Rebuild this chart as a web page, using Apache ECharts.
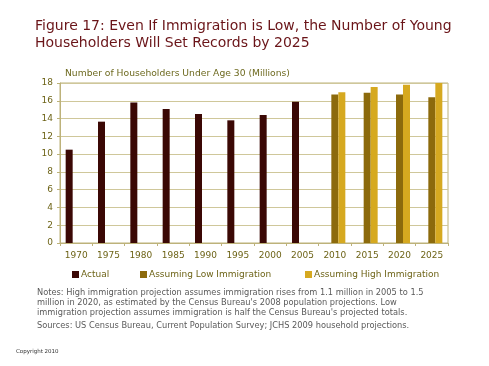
<!DOCTYPE html>
<html><head><meta charset="utf-8">
<script src="https://cdn.jsdelivr.net/npm/echarts@6/dist/echarts.min.js"></script>
<style>html,body{margin:0;padding:0;background:#fff}#c{width:489px;height:366px}</style>
</head><body><div id="c"></div>
<script>
const categories = ['1970','1975','1980','1985','1990','1995','2000','2005','2010','2015','2020','2025'];
const actual = [10.5,13.65,15.8,15.07,14.5,13.8,14.4,15.9,null,null,null,null];
const lowImm = [null,null,null,null,null,null,null,null,16.7,16.9,16.7,16.4];
const highImm = [null,null,null,null,null,null,null,null,16.95,17.55,17.8,18.0];
const yTicks = {min:0, max:18, interval:2};
const seriesNames = ['Actual','Assuming Low Immigration','Assuming High Immigration'];
const colors = ['#3b0805','#8c6a0c','#d6a920'];
const font = '"DejaVu Sans", sans-serif';
const legendLefts = [67, 135, 300];
const legendText = {fontFamily:font, fontSize:9, color:'#6e6418', padding:[0,0,0,-3]};
const chart = echarts.init(document.getElementById('c'));
chart.setOption({
  animation:false,
  backgroundColor:'#fff',
  title:{text:'Figure 17: Even If Immigration is Low, the Number of Young\nHouseholders Will Set Records by 2025',
    left:30, top:13, textStyle:{fontFamily:font, fontSize:14, fontWeight:'normal', color:'#6a1418', lineHeight:17}},
  grid:{left:60, right:41, top:83, bottom:123},
  xAxis:{type:'category', data:categories,
    axisLine:{lineStyle:{color:'#bdb27a'}},
    axisTick:{show:true, lineStyle:{color:'#bdb27a'}, length:3},
    axisLabel:{interval:0, fontFamily:font, fontSize:9, color:'#6e6418', margin:8}},
  yAxis:{type:'value', min:yTicks.min, max:yTicks.max, interval:yTicks.interval,
    axisLine:{show:true, lineStyle:{color:'#bdb27a'}},
    axisTick:{show:true, length:3, lineStyle:{color:'#bdb27a'}},
    splitLine:{lineStyle:{color:'#cfc79a'}},
    axisLabel:{fontFamily:font, fontSize:9, color:'#6e6418', margin:7}},
  legend:seriesNames.map((n,i)=>({top:265, left:legendLefts[i], itemWidth:7, itemHeight:7, icon:'rect',
    textStyle:legendText, data:[n]})),
  series:[
    {name:seriesNames[0], type:'bar', data:actual, barWidth:7, barGap:'0%', itemStyle:{color:colors[0]}},
    {name:seriesNames[1], type:'bar', data:lowImm, barWidth:7, barGap:'0%', itemStyle:{color:colors[1]}},
    {name:seriesNames[2], type:'bar', data:highImm, barWidth:7, barGap:'0%', itemStyle:{color:colors[2]}}
  ],
  graphic:[
    {type:'rect', shape:{x:60, y:83, width:388, height:160}, style:{fill:'none', stroke:'#bdb27a', lineWidth:1}, silent:true},
    {type:'text', left:65, top:69, style:{text:'Number of Householders Under Age 30 (Millions)', font:'9.2px '+font, fill:'#6e6a20'}},
    {type:'text', left:37, top:288, style:{text:"Notes: High immigration projection assumes immigration rises from 1.1 million in 2005 to 1.5\nmillion in 2020, as estimated by the Census Bureau's 2008 population projections. Low\nimmigration projection assumes immigration is half the Census Bureau's projected totals.",
      font:'8.25px '+font, fill:'#5a5a5a', lineHeight:9.8}},
    {type:'text', left:37, top:322, style:{text:'Sources: US Census Bureau, Current Population Survey; JCHS 2009 household projections.',
      font:'8.25px '+font, fill:'#5a5a5a'}},
    {type:'text', left:16, top:349, style:{text:'Copyright 2010', font:'5.5px '+font, fill:'#333'}}
  ]
});
</script></body></html>
